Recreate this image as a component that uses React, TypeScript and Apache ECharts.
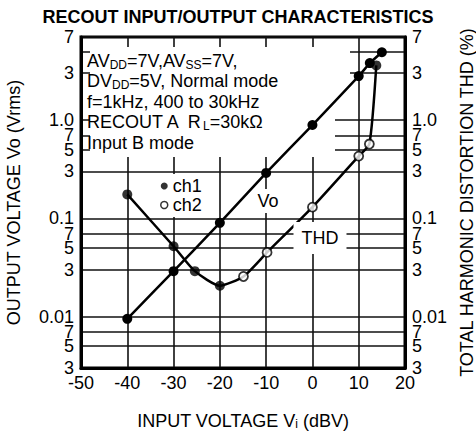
import React, { useEffect, useRef } from "react";
import * as echarts from "echarts";

const FONT = "'Liberation Sans', Arial, Helvetica, sans-serif";

// x axis (input voltage, dBV)
const xMin = -50;
const xMax = 20;
const xStep = 10;

// shared log y scale (Vo in Vrms on the left, THD in % on the right)
const yMin = 0.003;
const yMax = 7;
const yTickValues = [0.003, 0.005, 0.007, 0.01, 0.03, 0.05, 0.07, 0.1, 0.3, 0.5, 0.7, 1, 3, 5, 7];
const yTickLabels = ["3", "5", "7", "0.01", "3", "5", "7", "0.1", "3", "5", "7", "1.0", "3", "5", "7"];

// output voltage Vo (ch1, filled)
const voPoints: [number, number][] = [
  [-40, 0.0095],
  [-30, 0.029],
  [-20, 0.09],
  [-10, 0.29],
  [0, 0.89],
  [10, 2.8],
  [12.4, 3.8],
  [15, 4.9],
];

// THD curve
const thdCurve: [number, number][] = [
  [-40, 0.175],
  [-30, 0.052],
  [-25.4, 0.029],
  [-20, 0.0206],
  [-14.9, 0.0256],
  [-9.8, 0.045],
  [0, 0.13],
  [10, 0.43],
  [12.3, 0.57],
  [13.8, 3.6],
];
const thdCh1: [number, number][] = [
  [-40, 0.175],
  [-30, 0.052],
  [-25.4, 0.029],
  [-20, 0.0206],
  [13.8, 3.6],
];
const thdCh2: [number, number][] = [
  [-14.9, 0.0256],
  [-9.8, 0.045],
  [0, 0.13],
  [10, 0.43],
  [12.3, 0.57],
];

const noteLines = [
  "AV{s|DD}=7V,AV{s|SS}=7V,",
  "DV{s|DD}=5V, Normal mode",
  "f=1kHz, 400 to 30kHz",
  "RECOUT A  R{s|L}=30kΩ",
  "Input B mode",
];

function yLabel(v: number): string {
  for (let i = 0; i < yTickValues.length; i++) {
    if (Math.abs(Math.log10(v) - Math.log10(yTickValues[i])) < 1e-4) return yTickLabels[i];
  }
  return "";
}

export default function App() {
  const ref = useRef<HTMLDivElement>(null);
  useEffect(() => {
    if (!ref.current) return;
    const chart = echarts.init(ref.current, undefined, { renderer: "svg" });
    const black = "#000";
    const yAxis = (pos: "left" | "right") => ({
      type: "log",
      logBase: 10,
      min: yMin,
      max: yMax,
      position: pos,
      name:
        pos === "left"
          ? "OUTPUT VOLTAGE Vo (Vrms)"
          : "TOTAL HARMONIC DISTORTION THD (%)",
      nameLocation: "middle",
      nameGap: pos === "left" ? 58 : 49,
      nameTextStyle: { fontSize: 18, fontFamily: FONT, color: black },
      axisLine: { show: true, onZero: false, lineStyle: { color: black, width: 3 } },
      axisTick: { show: false, customValues: yTickValues },
      axisLabel: {
        customValues: yTickValues,
        formatter: (v: number) => yLabel(v),
        fontSize: 18,
        lineHeight: 12,
        fontFamily: FONT,
        color: black,
        margin: 7,
        showMinLabel: true,
        showMaxLabel: true,
      },
      splitLine: { show: pos === "left", lineStyle: { color: "#111", width: 1.6 } },
      minorTick: { show: false },
      minorSplitLine: { show: false },
    });

    const graphics: any[] = [
      { type: "rect", z: 1, silent: true, shape: { x: 90, y: 47, width: 260, height: 53 }, style: { fill: "#fff" } },
      { type: "rect", z: 1, silent: true, shape: { x: 90, y: 99, width: 245, height: 58 }, style: { fill: "#fff" } },
    ];
    noteLines.forEach((t, i) => {
      graphics.push({
        type: "text",
        z: 10,
        silent: true,
        x: 87,
        y: 60.5 + i * 20.5,
        style: {
          text: t,
          fontSize: 18,
          fontFamily: FONT,
          fill: black,
          verticalAlign: "middle",
          align: "left",
          lineHeight: 20,
          rich: {
            s: { fontSize: 12, fontFamily: FONT, fill: black, verticalAlign: "bottom", lineHeight: 20 },
          },
        },
      });
    });
    graphics.push({
      type: "text",
      z: 10,
      silent: true,
      x: 268,
      y: 201,
      style: {
        text: "Vo",
        fontSize: 18,
        fontFamily: FONT,
        fill: black,
        align: "center",
        verticalAlign: "middle",
        backgroundColor: "#fff",
        padding: [3, 2],
      },
    });
    graphics.push({
      type: "text",
      z: 10,
      silent: true,
      x: 320,
      y: 238,
      style: {
        text: "THD",
        fontSize: 18,
        fontFamily: FONT,
        fill: black,
        align: "center",
        verticalAlign: "middle",
        backgroundColor: "#fff",
        padding: [7, 8],
      },
    });

    chart.setOption({
      animation: false,
      backgroundColor: "#fff",
      title: {
        text: "RECOUT INPUT/OUTPUT CHARACTERISTICS",
        left: "center",
        top: 3,
        textStyle: { fontSize: 18, fontWeight: "bold", fontFamily: FONT, color: black },
      },
      grid: {
        left: 81,
        top: 37,
        width: 324,
        height: 331,
        show: true,
        borderColor: black,
        borderWidth: 3,
        backgroundColor: "transparent",
        outerBoundsMode: "none",
      },
      legend: {
        data: [
          { name: "ch1", icon: "circle", itemStyle: { color: black, borderWidth: 0 } },
          { name: "ch2", icon: "circle", itemStyle: { color: "#fff", borderColor: black, borderWidth: 1.5 } },
        ],
        orient: "vertical",
        left: 156,
        top: 174,
        itemWidth: 7,
        itemHeight: 7,
        itemGap: 1,
        padding: [3, 4, 3, 4],
        backgroundColor: "#fff",
        selectedMode: false,
        textStyle: { fontSize: 18, fontFamily: FONT, color: black },
      },
      xAxis: {
        type: "value",
        min: xMin,
        max: xMax,
        interval: xStep,
        name: "{a|INPUT VOLTAGE V}{s|i}{a| (dBV)}",
        nameLocation: "middle",
        nameGap: 42,
        nameTextStyle: {
          rich: {
            a: { fontSize: 18, fontFamily: FONT, color: black, verticalAlign: "bottom", lineHeight: 20 },
            s: { fontSize: 12, fontFamily: FONT, color: black, verticalAlign: "bottom", lineHeight: 20 },
          },
        },
        axisLine: { show: true, onZero: false, lineStyle: { color: black, width: 3 } },
        axisTick: { show: false },
        axisLabel: { fontSize: 18, fontFamily: FONT, color: black, margin: 6 },
        splitLine: { show: true, lineStyle: { color: "#111", width: 1.6 } },
      },
      yAxis: [yAxis("left"), yAxis("right")],
      graphic: graphics,
      series: [
        {
          name: "Vo",
          type: "line",
          data: voPoints,
          yAxisIndex: 0,
          smooth: 0.15,
          symbol: "circle",
          symbolSize: 10,
          showSymbol: true,
          lineStyle: { color: black, width: 2.5 },
          itemStyle: { color: black },
          z: 3,
        },
        {
          name: "THD",
          type: "line",
          data: thdCurve,
          yAxisIndex: 1,
          smooth: 0.2,
          showSymbol: false,
          lineStyle: { color: black, width: 2.5 },
          z: 3,
        },
        {
          name: "ch1",
          type: "scatter",
          data: thdCh1,
          yAxisIndex: 1,
          symbol: "circle",
          symbolSize: 10,
          itemStyle: { color: black, borderWidth: 0 },
          z: 4,
        },
        {
          name: "ch2",
          type: "scatter",
          data: thdCh2,
          yAxisIndex: 1,
          symbol: "circle",
          symbolSize: 9,
          itemStyle: { color: "#fff", borderColor: black, borderWidth: 1.8 },
          z: 4,
        },
      ],
    });
    return () => chart.dispose();
  }, []);
  return (
    <div
      ref={ref}
      style={{ position: "absolute", left: 0, top: 0, width: 476, height: 432 }}
    />
  );
}
